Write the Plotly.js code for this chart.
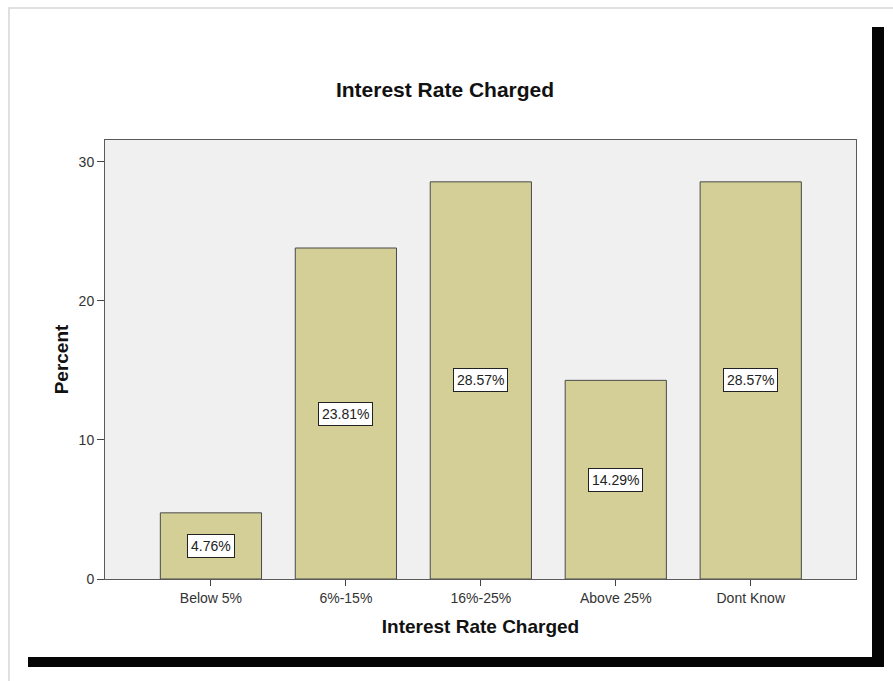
<!DOCTYPE html>
<html>
<head>
<meta charset="utf-8">
<script src="https://cdn.plot.ly/plotly-3.0.1.min.js"></script>
<style>
html,body{margin:0;padding:0;background:#fff;}
#chart{width:893px;height:681px;}
</style>
</head>
<body>
<div id="chart"></div>
<script>
var categories = ["Below 5%", "6%-15%", "16%-25%", "Above 25%", "Dont Know"];
var percents = [4.76, 23.81, 28.57, 14.29, 28.57];
var labels = ["4.76%", "23.81%", "28.57%", "14.29%", "28.57%"];
var yTicks = [0, 10, 20, 30];

var W = 893, H = 681;
var L = 105, R = 856, T = 140, B = 579;
function px(x){ return (x - L) / (R - L); }
function py(y){ return (B - y) / (B - T); }

var trace = {
  type: "bar",
  x: categories,
  y: percents,
  width: 0.75,
  marker: {color: "#d3cf97", line: {color: "#4a4a4a", width: 1}},
  hoverinfo: "x+y"
};

var annotations = categories.map(function(c, i){
  return {
    x: c, y: percents[i] / 2, xref: "x", yref: "y",
    text: labels[i], showarrow: false,
    bgcolor: "#ffffff", bordercolor: "#222222", borderwidth: 1, borderpad: 3,
    font: {family: "Liberation Sans, Arial, sans-serif", size: 14, color: "#222"}
  };
});

var shapes = [
  {type: "rect", xref: "paper", yref: "paper", x0: px(9), x1: px(905), y0: py(8), y1: py(700),
   line: {color: "#d6d6d6", width: 1.5}, fillcolor: "rgba(0,0,0,0)", layer: "below"},
  {type: "rect", xref: "paper", yref: "paper", x0: px(872), x1: px(884), y0: py(27), y1: py(667),
   line: {width: 0}, fillcolor: "#050505", layer: "above"},
  {type: "rect", xref: "paper", yref: "paper", x0: px(28), x1: px(884), y0: py(657), y1: py(667),
   line: {width: 0}, fillcolor: "#050505", layer: "above"}
];

var layout = {
  width: W, height: H,
  margin: {l: L, r: W - R, t: T, b: H - B, pad: 0},
  paper_bgcolor: "#ffffff",
  plot_bgcolor: "#f0f0f0",
  showlegend: false,
  font: {family: "Liberation Sans, Arial, sans-serif", color: "#333"},
  title: {
    text: "<b>Interest Rate Charged</b>",
    font: {family: "Liberation Sans, Arial, sans-serif", size: 21, color: "#111"},
    xref: "container", yref: "container", x: 445 / W, y: 1 - 90 / H,
    xanchor: "center", yanchor: "middle"
  },
  xaxis: {
    type: "category",
    range: [-0.785, 4.78],
    showline: true, mirror: true, linecolor: "#5a5a5a", linewidth: 1,
    ticks: "outside", ticklen: 6, tickcolor: "#444", tickwidth: 1,
    tickfont: {size: 14, color: "#333"},
    showgrid: false, zeroline: false, fixedrange: true,
    title: {text: "<b>Interest Rate Charged</b>", standoff: 14,
            font: {size: 19, color: "#111"}}
  },
  yaxis: {
    range: [0, 31.58],
    tickvals: yTicks,
    showline: true, mirror: true, linecolor: "#5a5a5a", linewidth: 1,
    ticks: "outside", ticklen: 7, tickcolor: "#444", tickwidth: 1,
    tickfont: {size: 14, color: "#333"},
    showgrid: false, zeroline: false, fixedrange: true,
    title: {text: "<b>Percent</b>", standoff: 4,
            font: {size: 19, color: "#111"}}
  },
  annotations: annotations,
  shapes: shapes
};

Plotly.newPlot("chart", [trace], layout, {displayModeBar: false, staticPlot: true});
</script>
</body>
</html>
